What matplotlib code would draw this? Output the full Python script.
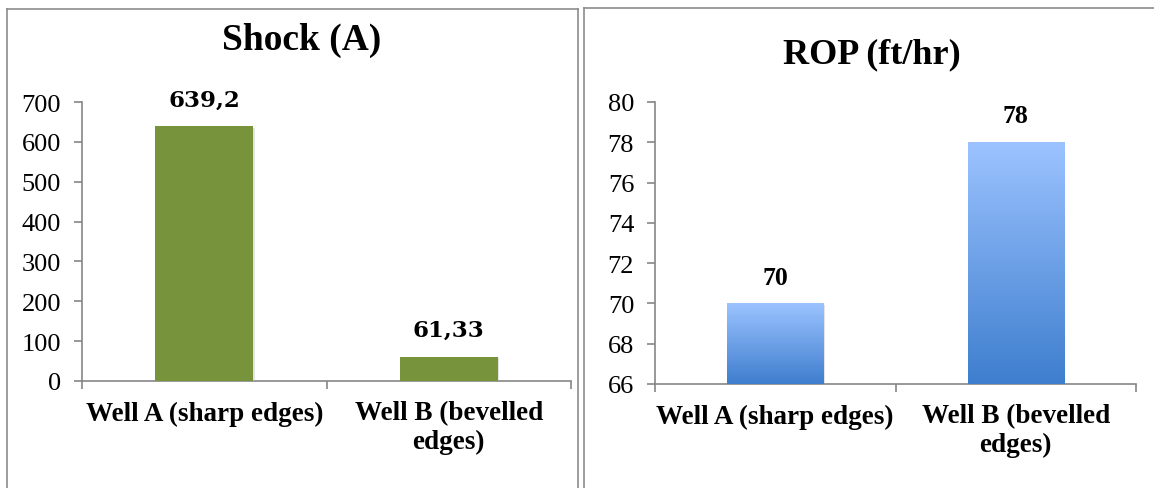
import numpy as np
import matplotlib.pyplot as plt
from matplotlib.lines import Line2D
from matplotlib.colors import LinearSegmentedColormap
import matplotlib.patheffects as pe

plt.rcParams['font.family'] = ['Liberation Serif', 'DejaVu Serif']

wells = ["Well A (sharp edges)", "Well B (bevelled\nedges)"]
shock = [639.2, 61.33]
shock_labels = ["639,2", "61,33"]
rop = [70, 78]
rop_labels = ["70", "78"]

W, H = 1154, 489
fig = plt.figure(figsize=(W / 100, H / 100), dpi=100)
grey = '#868686'


def px_axes(x0, x1, ytop, ybot):
    return fig.add_axes([x0 / W, 1 - ybot / H, (x1 - x0) / W, (ybot - ytop) / H])


def style(ax, ymin, ymax, step):
    ax.set_xlim(-0.5, 1.5)
    ax.set_ylim(ymin, ymax)
    ax.set_yticks(np.arange(ymin, ymax + step / 2, step))
    for s in ['top', 'right']:
        ax.spines[s].set_visible(False)
    for s in ['left', 'bottom']:
        ax.spines[s].set_color(grey)
        ax.spines[s].set_linewidth(1.2)
    ax.tick_params(axis='y', length=6, width=1.2, color=grey, pad=9, labelsize=19)
    ax.set_xticks([0, 1])
    ax.set_xticklabels(wells, fontsize=19.5, fontweight='bold', linespacing=1.2)
    ax.tick_params(axis='x', which='major', length=0, pad=14)
    ax.set_xticks([-0.5, 0.5, 1.5], minor=True)
    ax.tick_params(axis='x', which='minor', length=6, width=1.2, color=grey)


shadow = [pe.SimplePatchShadow(offset=(1, -1), shadow_rgbFace='#bbbbbb', alpha=0.4), pe.Normal()]

# left: shock
ax1 = px_axes(82, 571, 103, 382)
style(ax1, 0, 700, 100)
bars = ax1.bar([0, 1], shock, width=0.4, color='#77933C', zorder=3)
for b in bars:
    b.set_path_effects(shadow)
for b, lab in zip(bars, shock_labels):
    ax1.annotate(lab, (b.get_x() + b.get_width() / 2, b.get_height()),
                 xytext=(0, 19), textcoords='offset points', ha='center', va='center',
                 fontsize=16.5, fontweight='bold', family='DejaVu Serif')

# right: ROP with gradient bars
ax2 = px_axes(655, 1136, 103, 385)
style(ax2, 66, 80, 2)
base = 66
bars2 = ax2.bar([0, 1], [v - base for v in rop], bottom=base, width=0.4,
                facecolor='none', edgecolor='none', zorder=3)
cmap = LinearSegmentedColormap.from_list('g', ['#3E7ECE', '#9CC3FF'])
grad = np.linspace(0, 1, 256).reshape(-1, 1)
for b in bars2:
    x0, w = b.get_x(), b.get_width()
    y0, h = b.get_y(), b.get_height()
    ax2.add_patch(plt.Rectangle((x0, y0), w, h, facecolor='none', edgecolor='none',
                                path_effects=[pe.SimplePatchShadow(offset=(1, -1), shadow_rgbFace='#bbbbbb', alpha=0.4)],
                                zorder=2))
    ax2.imshow(grad, extent=(x0, x0 + w, y0, y0 + h), origin='lower', cmap=cmap,
               aspect='auto', zorder=3)
ax2.set_xlim(-0.5, 1.5)
ax2.set_ylim(66, 80)
for b, v, lab in zip(bars2, rop, rop_labels):
    ax2.annotate(lab, (b.get_x() + b.get_width() / 2, v),
                 xytext=(0, 19), textcoords='offset points', ha='center', va='center',
                 fontsize=18.5, fontweight='bold')

# titles
fig.text(302 / W, 1 - 40 / H, "Shock (A)", ha='center', va='center', fontsize=27, fontweight='bold')
fig.text(872 / W, 1 - 55 / H, "ROP (ft/hr)", ha='center', va='center', fontsize=26, fontweight='bold')

# panel borders
def fline(xs, ys):
    fig.add_artist(Line2D([x / W for x in xs], [1 - y / H for y in ys],
                          color='#8c8c8c', linewidth=1.2))

fline([7, 7], [10, 489])
fline([7, 578], [10, 10])
fline([578, 578], [10, 489])
fline([584, 584], [9, 489])
fline([584, 1154], [9, 9])

fig.savefig("out.png", dpi=100)
